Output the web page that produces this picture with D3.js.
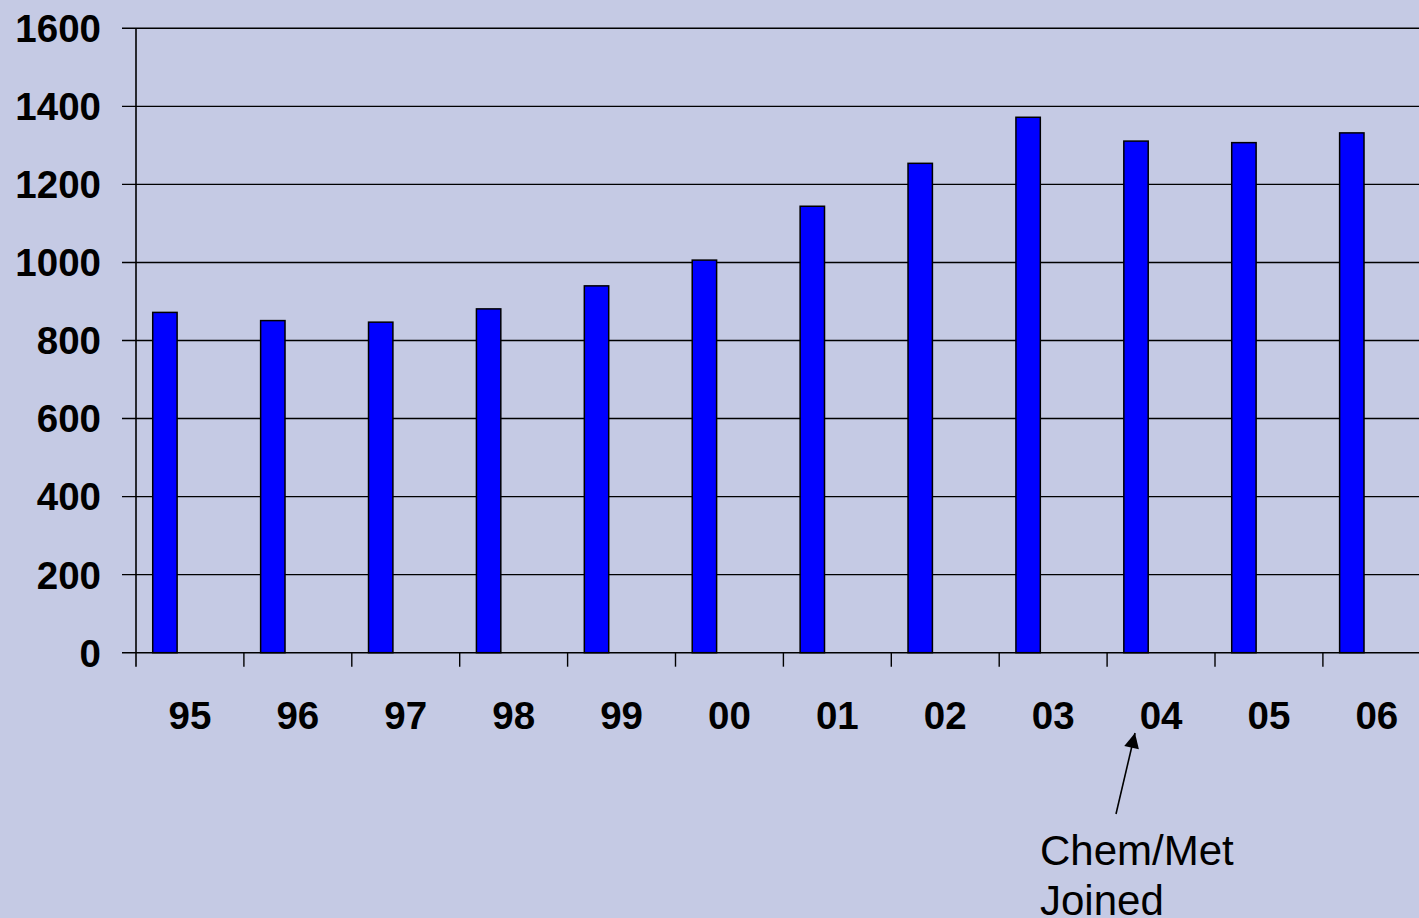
<!DOCTYPE html>
<html>
<head>
<meta charset="utf-8">
<script src="https://cdn.jsdelivr.net/npm/d3@7"></script>
<style>
  html, body { margin: 0; padding: 0; background: #c5cae4; overflow: hidden; }
  svg { display: block; font-family: Arial, "Liberation Sans", sans-serif; }
</style>
</head>
<body>
<script>
// year labels and headcount per year
var years = ["95", "96", "97", "98", "99", "00", "01", "02", "03", "04", "05", "06"];
var values = [872, 851, 847, 881, 940, 1006, 1144, 1254, 1372, 1311, 1307, 1332];
var yTicks = [0, 200, 400, 600, 800, 1000, 1200, 1400, 1600];

var options = {
  width: 1419,
  height: 918,
  left: 136,
  top: 28.3,
  bottom: 652.7,
  band: 107.9
};

var svg = d3.select("body").append("svg")
            .attr("width", options.width)
            .attr("height", options.height);

var x = d3.scaleBand()
          .domain(years)
          .range([options.left, options.left + options.band * years.length])
          .padding(0);

var y = d3.scaleLinear()
          .domain([0, 1600])
          .range([options.bottom, options.top]);

// gridlines (with the outward tick stub on the left)
svg.append("g").selectAll("line").data(yTicks).enter().append("line")
   .attr("x1", options.left - 14)
   .attr("x2", options.left + options.band * years.length)
   .attr("y1", function(d) { return y(d); })
   .attr("y2", function(d) { return y(d); })
   .attr("stroke", "#000")
   .attr("stroke-width", 1.4);

// y labels
svg.append("g").selectAll("text").data(yTicks).enter().append("text")
   .attr("x", 101)
   .attr("y", function(d) { return y(d); })
   .attr("dy", "0.36em")
   .attr("text-anchor", "end")
   .attr("font-size", 38.5)
   .attr("font-weight", "bold")
   .text(function(d) { return d; });

// bars
svg.append("g").selectAll("rect").data(values).enter().append("rect")
   .attr("x", function(d, i) { return x(years[i]) + x.bandwidth() * 0.155; })
   .attr("width", x.bandwidth() * 0.226)
   .attr("y", function(d) { return y(d); })
   .attr("height", function(d) { return y(0) - y(d); })
   .attr("fill", "#0000ff")
   .attr("stroke", "#000")
   .attr("stroke-width", 1.5);

// axis lines
svg.append("line")
   .attr("x1", options.left).attr("x2", options.left)
   .attr("y1", y(1600)).attr("y2", y(0) + 14)
   .attr("stroke", "#000").attr("stroke-width", 1.6);

svg.append("g").selectAll("line").data(years.slice(1)).enter().append("line")
   .attr("x1", function(d) { return x(d); })
   .attr("x2", function(d) { return x(d); })
   .attr("y1", y(0))
   .attr("y2", y(0) + 14)
   .attr("stroke", "#000")
   .attr("stroke-width", 1.4);

// x labels
svg.append("g").selectAll("text").data(years).enter().append("text")
   .attr("x", function(d) { return x(d) + x.bandwidth() / 2; })
   .attr("y", 729)
   .attr("text-anchor", "middle")
   .attr("font-size", 38.5)
   .attr("font-weight", "bold")
   .text(function(d) { return d; });

// annotation
svg.append("defs").append("marker")
   .attr("id", "arrow")
   .attr("viewBox", "0 0 10 10")
   .attr("refX", 10).attr("refY", 5)
   .attr("markerWidth", 17).attr("markerHeight", 15)
   .attr("markerUnits", "userSpaceOnUse")
   .attr("orient", "auto")
   .append("path")
   .attr("d", "M0,0 L10,5 L0,10 z")
   .attr("fill", "#000");

svg.append("line")
   .attr("x1", 1116).attr("y1", 814)
   .attr("x2", 1135).attr("y2", 733)
   .attr("stroke", "#000")
   .attr("stroke-width", 1.6)
   .attr("marker-end", "url(#arrow)");

var note = svg.append("text")
   .attr("x", 1040)
   .attr("y", 865)
   .attr("font-size", 42);
note.append("tspan").attr("x", 1040).text("Chem/Met");
note.append("tspan").attr("x", 1040).attr("dy", 50).text("Joined");
</script>
</body>
</html>
